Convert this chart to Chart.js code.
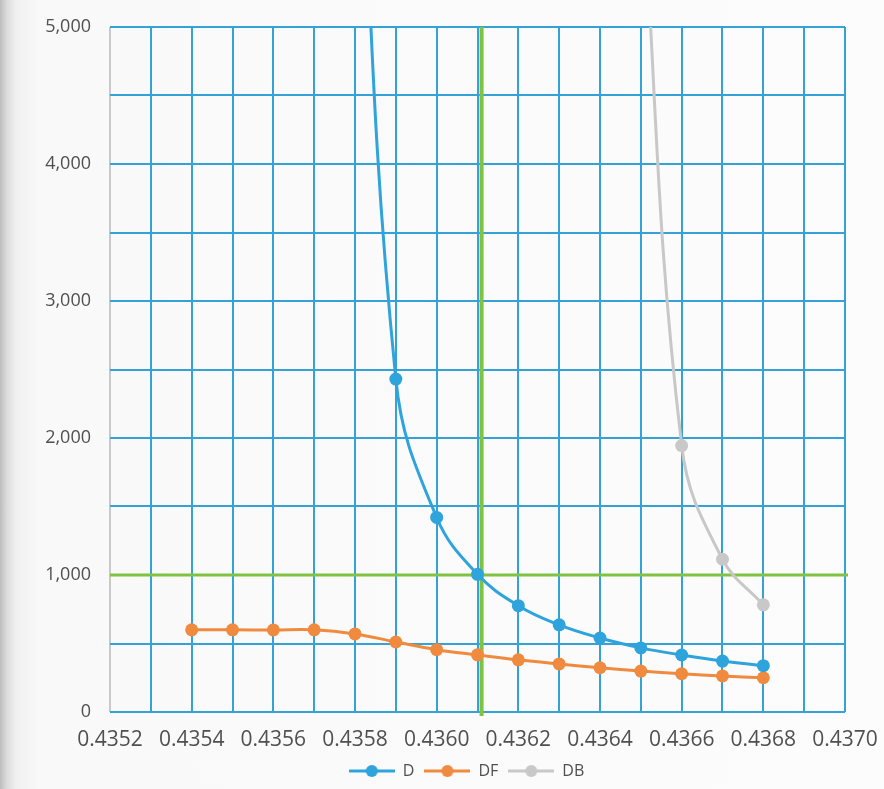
<!DOCTYPE html>
<html>
<head>
<meta charset="utf-8">
<script src="https://cdn.jsdelivr.net/npm/chart.js@4.4.0/dist/chart.umd.min.js"></script>
<style>
  html, body { margin: 0; padding: 0; }
  body {
    width: 884px; height: 789px; overflow: hidden;
    background: linear-gradient(to right, #bdbdbd 0px, #dcdcdc 7px, #f0f0f0 16px, #f9f9f9 40px, #fcfcfc 100%);
  }
  #wrap { position: absolute; left: 0; top: 0; width: 884px; height: 789px; }
</style>
</head>
<body>
<div id="wrap"><canvas id="chart" width="884" height="789"></canvas></div>
<script>
// x values (same for every series)
const xValues = [0.4354, 0.4355, 0.4356, 0.4357, 0.4358, 0.4359, 0.4360, 0.4361, 0.4362, 0.4363, 0.4364, 0.4365, 0.4366, 0.4367, 0.4368];

// series values (null = no point; the first D and DB points are off the top)
const dValues  = [null, null, null, null, 7400, 2430, 1420, 1005, 776, 636, 540, 468, 416, 372, 338];
const dfValues = [600, 600, 599, 600, 570, 511, 455, 417, 381, 351, 323, 299, 279, 263, 250];
const dbValues = [null, null, null, null, null, null, null, null, null, null, null, 6200, 1945, 1115, 782];

// reference lines (green)
const markX = 0.43611;
const markY = 1000;

// axis ranges
const xMin = 0.4352, xMax = 0.4370, xStep = 0.0001;
const yMin = 0, yMax = 5000, yStep = 500;

const toPoints = vals => xValues.map((x, i) => ({ x: x, y: vals[i] })).filter(p => p.y !== null);

// little line-with-dot image for the legend
function legendIcon(color) {
  const c = document.createElement('canvas');
  c.width = 46; c.height = 14;
  const g = c.getContext('2d');
  g.strokeStyle = color; g.lineWidth = 3;
  g.beginPath(); g.moveTo(0, 7); g.lineTo(46, 7); g.stroke();
  g.fillStyle = color;
  g.beginPath(); g.arc(23, 7, 6, 0, Math.PI * 2); g.fill();
  return c;
}

const blue = '#2ea3dc';
const orange = '#f08a3e';
const grey = '#c8c8c8';
const green = '#80c342';
const gridBlue = '#34a2d6';

// legend sits a bit right of the canvas centre in the original
const shiftLegend = {
  id: 'shiftLegend',
  afterLayout(chart) {
    chart.legend.left += 44;
    chart.legend.right += 44;
  }
};

const ctx = document.getElementById('chart').getContext('2d');
new Chart(ctx, {
  type: 'line',
  data: {
    datasets: [
      {
        label: 'D', data: toPoints(dValues),
        borderColor: blue, backgroundColor: blue, borderWidth: 3,
        pointRadius: 6.5, pointHoverRadius: 6.5, pointBorderWidth: 0,
        tension: 0.4,
        legendIcon: legendIcon(blue)
      },
      {
        label: 'DF', data: toPoints(dfValues),
        borderColor: orange, backgroundColor: orange, borderWidth: 3,
        pointRadius: 6.5, pointHoverRadius: 6.5, pointBorderWidth: 0,
        tension: 0.4,
        legendIcon: legendIcon(orange)
      },
      {
        label: 'DB', data: toPoints(dbValues),
        borderColor: grey, backgroundColor: grey, borderWidth: 3,
        pointRadius: 6.5, pointHoverRadius: 6.5, pointBorderWidth: 0,
        tension: 0.4,
        legendIcon: legendIcon(grey)
      },
      {
        label: 'markX', data: [{ x: markX, y: -100 }, { x: markX, y: yMax }],
        borderColor: green, borderWidth: 4, pointRadius: 0, tension: 0,
        clip: { left: 0, top: 0, right: 0, bottom: 4 }
      },
      {
        label: 'markY', data: [{ x: xMin, y: markY }, { x: xMax + 0.00002, y: markY }],
        borderColor: green, borderWidth: 3, pointRadius: 0, tension: 0,
        clip: { left: 0, top: 0, right: 3, bottom: 0 }
      }
    ]
  },
  options: {
    responsive: false,
    animation: false,
    events: [],
    layout: { padding: { left: 0, right: 39, top: 27, bottom: 0 } },
    scales: {
      x: {
        type: 'linear', min: xMin, max: xMax,
        border: { display: false },
        grid: {
          color: c => c.index === 0 ? '#c9c9c9' : gridBlue,
          lineWidth: 2, drawTicks: false
        },
        ticks: {
          stepSize: xStep, autoSkip: false, maxRotation: 0, padding: 15,
          color: '#505050', font: { family: 'Open Sans', size: 21 },
          callback: (v, i) => i % 2 === 0 ? v.toFixed(4) : ''
        },
        afterFit: s => { s.height = 41; s.paddingLeft = 0; s.paddingRight = 0; }
      },
      y: {
        min: yMin, max: yMax,
        border: { display: false },
        grid: { color: gridBlue, lineWidth: 2, drawTicks: false },
        ticks: {
          stepSize: yStep, padding: 19,
          color: '#505050', font: { family: 'Open Sans', size: 18 },
          callback: v => v % 1000 === 0 ? v.toLocaleString('en-US') : ''
        },
        afterFit: s => { s.width = 110; s.paddingTop = 0; s.paddingBottom = 0; }
      }
    },
    plugins: {
      tooltip: { enabled: false },
      legend: {
        position: 'bottom',
        labels: {
          usePointStyle: true,
          pointStyleWidth: 46,
          color: '#505050',
          font: { family: 'Open Sans', size: 16 },
          padding: 10,
          boxHeight: 14,
          filter: item => item.text === 'D' || item.text === 'DF' || item.text === 'DB',
          generateLabels: chart => chart.data.datasets.map((ds, i) => ({
            text: ds.label, datasetIndex: i, pointStyle: ds.legendIcon,
            fontColor: '#505050', hidden: false, lineWidth: 0, strokeStyle: 'transparent', fillStyle: 'transparent'
          }))
        }
      }
    }
  },
  plugins: [shiftLegend]
});
</script>
</body>
</html>
